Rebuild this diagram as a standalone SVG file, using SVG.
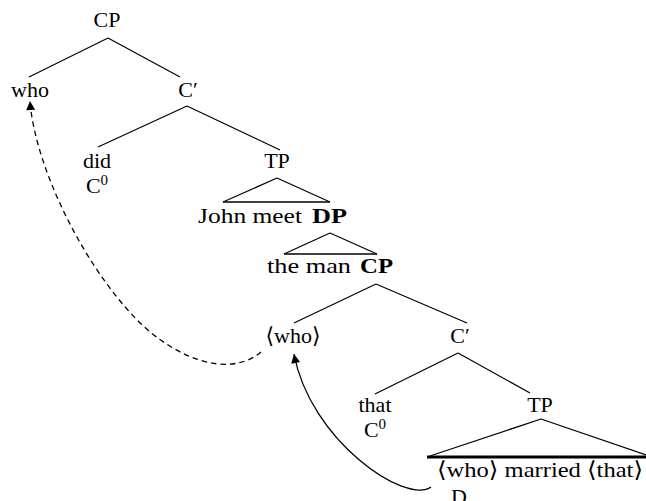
<svg xmlns="http://www.w3.org/2000/svg" width="646" height="501" viewBox="0 0 646 501">
  <style>
    text { font-family: "Liberation Serif", "DejaVu Serif", serif; font-size: 22px; fill: #000; }
    .c { text-anchor: middle; }
    .b { font-weight: bold; }
    .sup { font-size: 15px; }
    .br { stroke: #000; stroke-width: 1.2; fill: none; }
    .base { stroke: #000; stroke-width: 1.6; fill: none; }
    .thick { stroke: #000; stroke-width: 3.2; fill: none; }
    .mv { stroke: #000; stroke-width: 1.3; fill: none; }
    .dash { stroke-dasharray: 5.5 4; }
  </style>
  <defs>
    <marker id="ah" viewBox="0 0 10 10" refX="10" refY="5" markerUnits="userSpaceOnUse" markerWidth="11" markerHeight="9" orient="auto">
      <path d="M0,0 L10,5 L0,10 z" fill="#000"/>
    </marker>
  </defs>
  <rect width="646" height="501" fill="#fff"/>

  <g id="connectors">
    <path class="br" d="M108,38 L29,77 M108,38 L180,77"/>
    <path class="br" d="M187,106 L98,147 M187,106 L280,150"/>
    <path class="br" d="M277,178 L223,202 M277,178 L330,202"/>
    <path class="base" d="M223,202 L330,202"/>
    <path class="br" d="M330,233 L284,254 M330,233 L377,254"/>
    <path class="base" d="M284,254 L377,254"/>
    <path class="br" d="M376,284 L294,323 M376,284 L467,323"/>
    <path class="br" d="M458,353 L375,394 M458,353 L530,393"/>
    <path class="br" d="M541,419 L430,456 M541,419 L646,455"/>
    <path class="thick" d="M427,457 L646,457"/>
    <path class="mv dash" d="M261,352 C240,370 200,372 150,332 C90,280 35,170 30,101" marker-end="url(#ah)"/>
    <path class="mv" d="M431,487 C405,505 310,440 294,354" marker-end="url(#ah)"/>
  </g>

  <g id="n-cp-top"><text class="c" x="107" y="27">CP</text></g>
  <g id="n-who"><text class="c" x="30" y="97">who</text></g>
  <g id="n-cbar-top"><text class="c" x="188" y="97">C′</text></g>
  <g id="n-did"><text class="c" x="97" y="168">did</text><text class="c" x="97" y="193">C<tspan class="sup" dy="-8">0</tspan></text></g>
  <g id="n-tp-top"><text class="c" x="277" y="168">TP</text></g>
  <g id="n-john"><text x="198" y="223" textLength="104" lengthAdjust="spacingAndGlyphs">John meet</text><text class="b" x="312" y="223" textLength="35" lengthAdjust="spacingAndGlyphs">DP</text></g>
  <g id="n-theman"><text x="267" y="273" textLength="84" lengthAdjust="spacingAndGlyphs">the man</text><text class="b" x="360" y="273" textLength="33" lengthAdjust="spacingAndGlyphs">CP</text></g>
  <g id="n-who-trace"><text class="c" x="293" y="343">⟨who⟩</text></g>
  <g id="n-cbar-low"><text class="c" x="460" y="343">C′</text></g>
  <g id="n-that"><text class="c" x="375" y="412">that</text><text class="c" x="375" y="437">C<tspan class="sup" dy="-8">0</tspan></text></g>
  <g id="n-tp-low"><text class="c" x="540" y="412">TP</text></g>
  <g id="n-married"><text x="437" y="477" textLength="206" lengthAdjust="spacingAndGlyphs">⟨who⟩ married ⟨that⟩</text><text class="c" x="459" y="504">D</text></g>
</svg>
